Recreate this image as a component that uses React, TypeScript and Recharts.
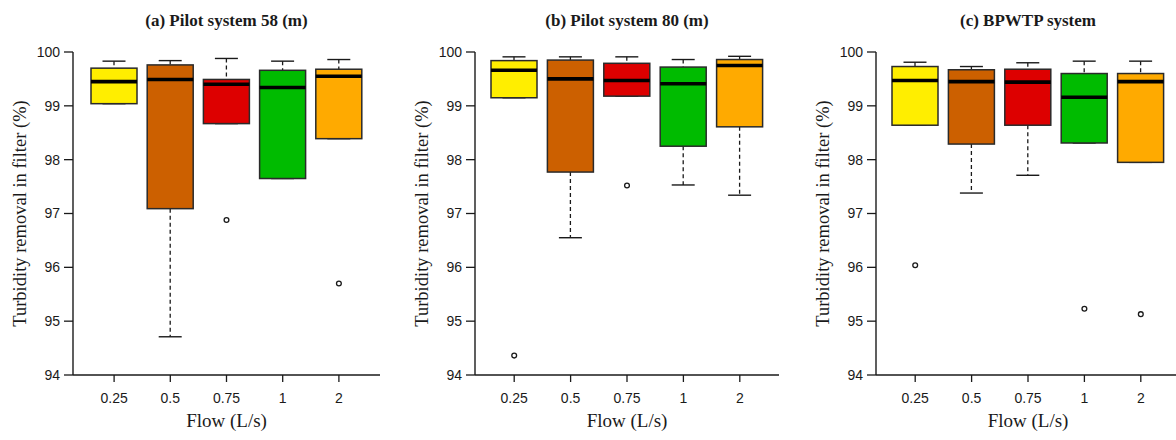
import { Bar, ComposedChart, Scatter, XAxis, YAxis } from 'recharts';

const flows = ['0.25', '0.5', '0.75', '1', '2'];
const colours = ['#ffee00', '#cc6000', '#dd0000', '#00bb00', '#ffaa00'];
const yTicks = [94, 95, 96, 97, 98, 99, 100];

// (a) Pilot system 58 (m)
const aLow = [99.04, 94.71, 98.67, 97.65, 98.39];
const aQ1 = [99.04, 97.09, 98.67, 97.65, 98.39];
const aMed = [99.45, 99.49, 99.4, 99.34, 99.55];
const aQ3 = [99.7, 99.76, 99.49, 99.66, 99.68];
const aHigh = [99.83, 99.84, 99.88, 99.83, 99.86];
const aOut = [null, null, 96.88, null, 95.7];

// (b) Pilot system 80 (m)
const bLow = [99.15, 96.55, 99.18, 97.53, 97.34];
const bQ1 = [99.15, 97.77, 99.18, 98.25, 98.61];
const bMed = [99.66, 99.5, 99.47, 99.41, 99.75];
const bQ3 = [99.84, 99.85, 99.79, 99.72, 99.86];
const bHigh = [99.91, 99.91, 99.91, 99.86, 99.92];
const bOut = [94.36, null, 97.52, null, null];

// (c) BPWTP system
const cLow = [98.64, 97.38, 97.71, 98.31, 97.95];
const cQ1 = [98.64, 98.29, 98.64, 98.31, 97.95];
const cMed = [99.47, 99.45, 99.44, 99.16, 99.45];
const cQ3 = [99.73, 99.67, 99.68, 99.6, 99.6];
const cHigh = [99.81, 99.73, 99.8, 99.83, 99.83];
const cOut = [96.04, null, null, 95.23, 95.13];

type Row = { flow: string; low: number; q1: number; med: number; q3: number; high: number; out: number | null };

function rows(low: number[], q1: number[], med: number[], q3: number[], high: number[], out: (number | null)[]): Row[] {
  return flows.map((flow, i) => ({ flow, low: low[i], q1: q1[i], med: med[i], q3: q3[i], high: high[i], out: out[i] }));
}

const INK = '#1a1a1a';
const SANS = '"Liberation Sans", Arial, sans-serif';
const SERIF = '"Liberation Serif", "Times New Roman", serif';

function BoxShape(props: any) {
  const { x, y, width, height, payload, index } = props;
  const top = Math.min(y, y + height);
  const span = Math.abs(height);
  // linear map inside the bar's own pixel range (low..high)
  const px = (v: number) => top + ((payload.high - v) / (payload.high - payload.low)) * span;
  const cx = x + width / 2;
  const cap = width / 4;
  const yQ3 = px(payload.q3);
  const yQ1 = px(payload.q1);
  return (
    <g>
      <line x1={cx} x2={cx} y1={px(payload.high)} y2={yQ3} stroke={INK} strokeWidth={1.3} strokeDasharray="4 3" />
      <line x1={cx} x2={cx} y1={yQ1} y2={px(payload.low)} stroke={INK} strokeWidth={1.3} strokeDasharray="4 3" />
      <line x1={cx - cap} x2={cx + cap} y1={px(payload.high)} y2={px(payload.high)} stroke={INK} strokeWidth={1.4} />
      <line x1={cx - cap} x2={cx + cap} y1={px(payload.low)} y2={px(payload.low)} stroke={INK} strokeWidth={1.4} />
      <rect x={x} y={yQ3} width={width} height={yQ1 - yQ3} fill={colours[index]} stroke="#2a2a2a" strokeWidth={1.5} />
      <line x1={x} x2={x + width} y1={px(payload.med)} y2={px(payload.med)} stroke="#000" strokeWidth={3.6} />
    </g>
  );
}

function Outlier(props: any) {
  if (props.payload == null || props.payload.out == null) return <g />;
  return <circle cx={props.cx} cy={props.cy} r={2.4} fill="none" stroke={INK} strokeWidth={1.3} />;
}

function YTitle(props: any) {
  const vb = props.viewBox;
  const x = vb.x + vb.width - 53;
  const y = vb.y + vb.height / 2;
  return (
    <text x={x} y={y} transform={`rotate(-90 ${x} ${y})`} textAnchor="middle" dominantBaseline="central"
      fontFamily={SERIF} fontSize={18.5} fill={INK}>
      Turbidity removal in filter (%)
    </text>
  );
}

function XTitle(props: any) {
  const vb = props.viewBox;
  return (
    <text x={vb.x + vb.width / 2} y={vb.y + 52} textAnchor="middle" fontFamily={SERIF} fontSize={19} fill={INK}>
      Flow (L/s)
    </text>
  );
}

interface PanelProps {
  title: string;
  data: Row[];
  left: number;
  width: number;
  axisWidth: number;
  rightGap: number;
  pad: number;
}

function Panel({ title, data, left, width, axisWidth, rightGap, pad }: PanelProps) {
  const plotLeft = axisWidth;
  const plotWidth = width - axisWidth - rightGap;
  return (
    <div style={{ position: 'absolute', left, top: 0, width, height: 440 }}>
      <div style={{
        position: 'absolute', left: plotLeft, width: plotWidth, top: 11, textAlign: 'center',
        fontFamily: SERIF, fontWeight: 'bold', fontSize: 17, color: INK, whiteSpace: 'nowrap',
      }}>
        {title}
      </div>
      <ComposedChart width={width} height={440} data={data} margin={{ top: 52, right: rightGap, bottom: 0, left: 0 }}>
        <XAxis dataKey="flow" type="category" height={65} padding={{ left: pad, right: pad }}
          tickSize={7} tickMargin={11} interval={0}
          tick={{ fontFamily: SANS, fontSize: 14, fill: INK }}
          tickLine={{ stroke: INK, strokeWidth: 1.3 }} axisLine={{ stroke: INK, strokeWidth: 1.4 }}
          label={{ content: (p: any) => <XTitle {...p} /> }} />
        <XAxis xAxisId="top" dataKey="flow" orientation="top" height={0} tick={false} tickLine={false}
          axisLine={{ stroke: INK, strokeWidth: 1.4 }} />
        <YAxis type="number" domain={[94, 100]} ticks={yTicks} allowDataOverflow width={axisWidth}
          tickSize={9} tickMargin={4} interval={0}
          tick={{ fontFamily: SANS, fontSize: 14, fill: INK }}
          tickLine={{ stroke: INK, strokeWidth: 1.3 }} axisLine={{ stroke: INK, strokeWidth: 1.4 }}
          label={{ content: (p: any) => <YTitle {...p} /> }} />
        <YAxis yAxisId="right" orientation="right" type="number" domain={[94, 100]} width={0}
          tick={false} tickLine={false} axisLine={{ stroke: INK, strokeWidth: 1.4 }} />
        <Bar dataKey={(d: Row) => [d.low, d.high]} barSize={46} shape={<BoxShape />} isAnimationActive={false} />
        <Scatter dataKey="out" shape={<Outlier />} isAnimationActive={false} />
      </ComposedChart>
    </div>
  );
}

export default function App() {
  return (
    <div style={{ position: 'fixed', left: 0, top: 0, width: 1176, height: 440, overflow: 'hidden', background: '#fff' }}>
      <Panel title="(a) Pilot system 58 (m)" data={rows(aLow, aQ1, aMed, aQ3, aHigh, aOut)}
        left={0} width={390} axisWidth={73} rightGap={10} pad={13} />
      <Panel title="(b) Pilot system 80 (m)" data={rows(bLow, bQ1, bMed, bQ3, bHigh, bOut)}
        left={390} width={400} axisWidth={85} rightGap={11} pad={11} />
      <Panel title="(c) BPWTP system" data={rows(cLow, cQ1, cMed, cQ3, cHigh, cOut)}
        left={780} width={400} axisWidth={96} rightGap={0} pad={11} />
    </div>
  );
}
